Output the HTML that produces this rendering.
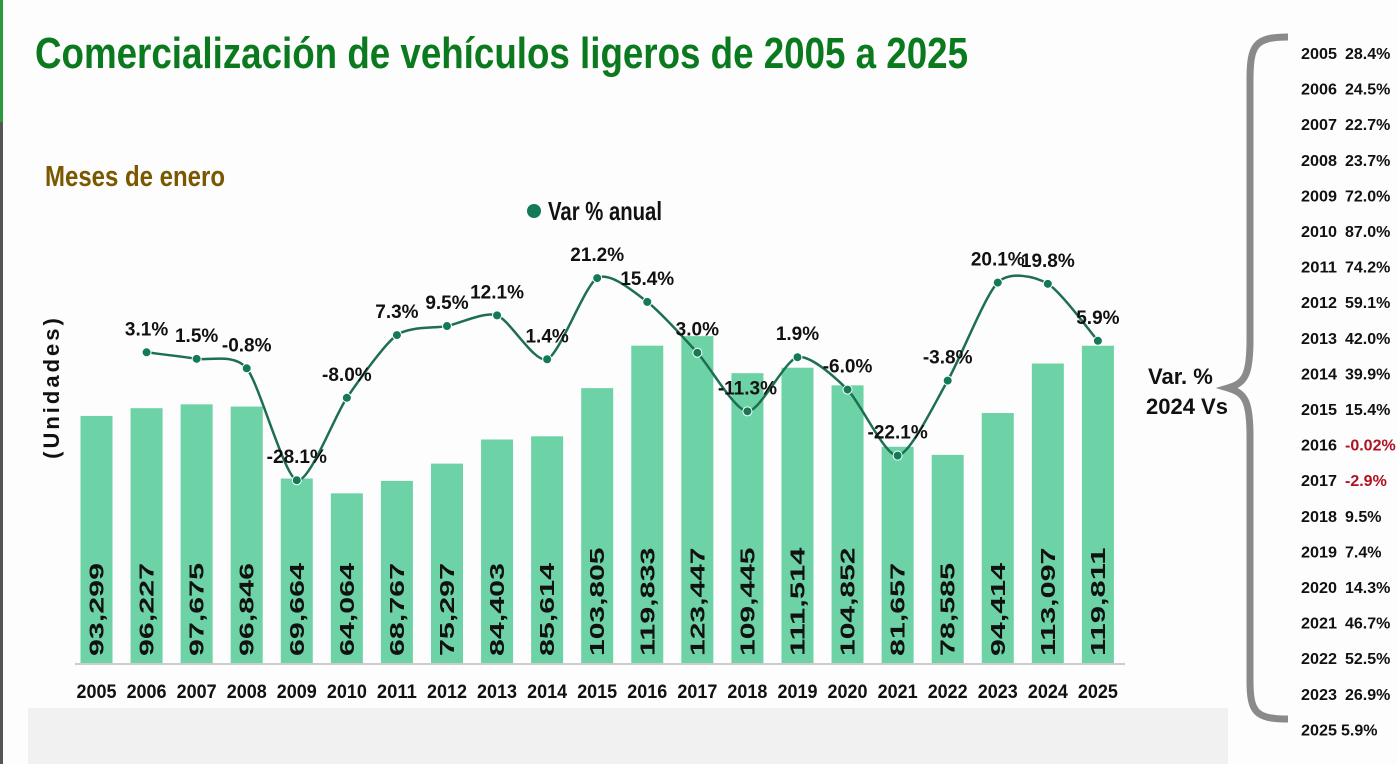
<!DOCTYPE html>
<html><head><meta charset="utf-8"><style>
body{margin:0;background:#fff;}
svg{display:block;font-family:"Liberation Sans",sans-serif;}
</style></head><body>
<svg id="chart" width="1397" height="764" viewBox="0 0 1397 764">
<rect x="0" y="0" width="1397" height="764" fill="#fdfdfd"/>
<rect x="28" y="708" width="1200" height="56" fill="#f1f1f1"/>
<rect x="0" y="0" width="3" height="122" fill="#2a9a3a"/>
<rect x="0" y="122" width="3" height="642" fill="#555"/>
<text x="35" y="68" font-size="44" font-weight="bold" fill="#0b7a1f" textLength="933" lengthAdjust="spacingAndGlyphs">Comercialización de vehículos ligeros de 2005 a 2025</text>
<text x="45" y="186" font-size="29" font-weight="bold" fill="#7a5800" textLength="180" lengthAdjust="spacingAndGlyphs">Meses de enero</text>
<circle cx="534" cy="211" r="7" fill="#137a55"/>
<text x="548" y="220" font-size="26" font-weight="bold" fill="#111" textLength="114" lengthAdjust="spacingAndGlyphs">Var % anual</text>
<text transform="translate(59,387) rotate(-90)" text-anchor="middle" font-size="22" font-weight="bold" fill="#111" letter-spacing="3">(Unidades)</text>
<line x1="75" y1="664" x2="1125" y2="664" stroke="#ccc" stroke-width="2"/>
<g id="bars"></g><g id="line"></g><g id="xlabels"></g>
<path d="M1288,37 C1255,37 1250,45 1250,80 L1250,340 C1250,375 1245,383 1228,388 C1245,393 1250,401 1250,436 L1250,680 C1250,712 1255,719 1288,719" fill="none" stroke="#8a8a8a" stroke-width="7"/>
<text x="1148" y="384" font-size="22" font-weight="bold" fill="#111">Var. %</text>
<text x="1146" y="414" font-size="22" font-weight="bold" fill="#111">2024 Vs</text>
<g id="vslist"></g>
</svg>
<script>
const years=["2005","2006","2007","2008","2009","2010","2011","2012","2013","2014","2015","2016","2017","2018","2019","2020","2021","2022","2023","2024","2025"];
const units=[93299,96227,97675,96846,69664,64064,68767,75297,84403,85614,103805,119833,123447,109445,111514,104852,81657,78585,94414,113097,119811];
const varPct=[null,3.1,1.5,-0.8,-28.1,-8.0,7.3,9.5,12.1,1.4,21.2,15.4,3.0,-11.3,1.9,-6.0,-22.1,-3.8,20.1,19.8,5.9];
const vsYears=["2005","2006","2007","2008","2009","2010","2011","2012","2013","2014","2015","2016","2017","2018","2019","2020","2021","2022","2023","2025"];
const vsValues=["28.4%","24.5%","22.7%","23.7%","72.0%","87.0%","74.2%","59.1%","42.0%","39.9%","15.4%","-0.02%","-2.9%","9.5%","7.4%","14.3%","46.7%","52.5%","26.9%","5.9%"];
const NS="http://www.w3.org/2000/svg";
function mk(t,a,p){const e=document.createElementNS(NS,t);for(const k in a)e.setAttribute(k,a[k]);p.appendChild(e);return e;}
const xC=i=>96.5+i*50.07, yB=v=>663-v*0.002648, yL=v=>365-v*4.1;
const bars=document.getElementById('bars'),line=document.getElementById('line'),xl=document.getElementById('xlabels'),vs=document.getElementById('vslist');
units.forEach((v,i)=>{
 const r=mk('rect',{x:xC(i)-16,y:yB(v),width:32,height:663-yB(v),fill:'#6dd2a6'},bars);
 
 
 const s=v.toLocaleString('en-US');
 const t=mk('text',{transform:`translate(${xC(i)+7},656) rotate(-90)`,'font-size':20,'font-weight':'bold',fill:'#111',textLength:s.length*15.5,lengthAdjust:'spacingAndGlyphs'},bars);
 t.textContent=s;
 
 
});
years.forEach((yr,i)=>{
 const y=mk('text',{x:xC(i),y:698,'text-anchor':'middle','font-size':19,'font-weight':'bold',fill:'#111',textLength:40,lengthAdjust:'spacingAndGlyphs'},xl);
 y.textContent=yr;
 
 
});
const pts=[];varPct.forEach((v,i)=>{if(v!==null)pts.push([xC(i),yL(v),v,i]);});
let d='M'+pts[0][0]+','+pts[0][1];
const T=8;
for(let k=0;k<pts.length-1;k++){const p0=pts[Math.max(k-1,0)],p1=pts[k],p2=pts[k+1],p3=pts[Math.min(k+2,pts.length-1)];
 d+=` C${p1[0]+(p2[0]-p0[0])/T},${p1[1]+(p2[1]-p0[1])/T} ${p2[0]-(p3[0]-p1[0])/T},${p2[1]-(p3[1]-p1[1])/T} ${p2[0]},${p2[1]}`;}
const pl=mk('path',{d:d,fill:'none',stroke:'#1d6e52','stroke-width':2.5},line);


pts.forEach(p=>{
 const c=mk('circle',{cx:p[0],cy:p[1],r:4.5,fill:'#137a55',stroke:'#fff','stroke-width':1},line);
 
 
 const t=mk('text',{x:p[0],y:p[1]-17,'text-anchor':'middle','font-size':19,'font-weight':'bold',fill:'#111'},line);
 t.textContent=p[2].toFixed(1)+'%';
 
 
});
vsYears.forEach((y,i)=>{
 const yy=59+i*35.6;
 const a=mk('text',{x:1301,y:yy,'font-size':16,'font-weight':'bold',fill:'#111',textLength:36,lengthAdjust:'spacingAndGlyphs'},vs);
 a.textContent=y;
 
 
 const b=mk('text',{x:y==="2025"?1341:1345,y:yy,'font-size':16,'font-weight':'bold',fill:vsValues[i].startsWith('-')?'#b01020':'#111'},vs);
 b.textContent=vsValues[i];
 
 
});
</script>
</body></html>
